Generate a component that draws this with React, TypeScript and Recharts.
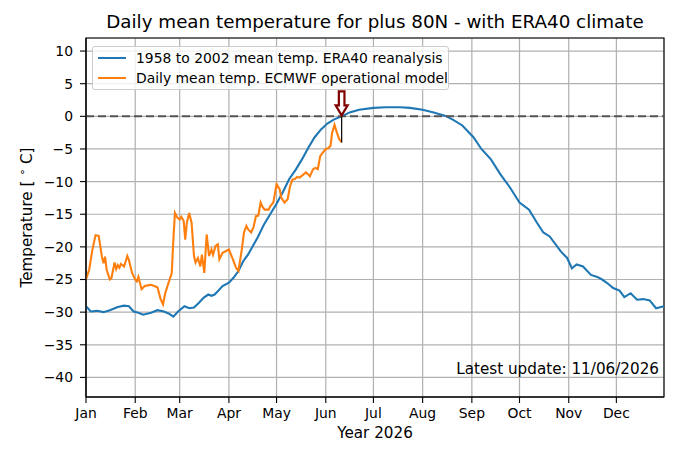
import React from 'react';
import {
  LineChart, Line, XAxis, YAxis, CartesianGrid, ReferenceLine, ReferenceDot, ReferenceArea,
} from 'recharts';

const TITLE = 'Daily mean temperature for plus 80N - with ERA40 climate';
const SERIES_CLIM = '1958 to 2002 mean temp. ERA40 reanalysis';
const SERIES_OPER = 'Daily mean temp. ECMWF operational model';
const X_LABEL = 'Year 2026';
const UPDATE_TEXT = 'Latest update: 11/06/2026';

const MONTHS = ['Jan', 'Feb', 'Mar', 'Apr', 'May', 'Jun', 'Jul', 'Aug', 'Sep', 'Oct', 'Nov', 'Dec'];
const MONTH_START = [0, 31, 59, 90, 120, 151, 181, 212, 243, 273, 304, 334];
const Y_TICKS = [-40, -35, -30, -25, -20, -15, -10, -5, 0, 5, 10];

const CLIM_DAYS = [
  0, 3, 7, 11, 15, 20, 24, 27, 30, 33, 36, 41, 45, 49, 52, 55, 58, 62, 65, 68, 71, 74, 77, 79, 81, 83, 86, 90,
  93, 96, 99, 102, 105, 108, 112, 116, 120, 124, 128, 132, 136, 140, 144, 148, 152, 156, 161, 166, 172, 181,
  189, 198, 204, 212, 219, 226, 231, 237, 244, 249, 255, 261, 267, 273, 279, 284, 288, 292, 299, 303, 306,
  309, 313, 318, 322, 325, 328, 332, 336, 339, 343, 347, 351, 355, 359, 364,
];
const CLIM_TEMPS = [
  -29.1, -29.9, -29.8, -30.0, -29.7, -29.2, -29.0, -29.1, -29.9, -30.1, -30.4, -30.1, -29.7, -29.9, -30.2,
  -30.7, -29.9, -29.1, -29.4, -29.3, -28.6, -27.8, -27.3, -27.5, -27.3, -26.8, -26.0, -25.5, -24.7, -23.7,
  -22.2, -21.2, -19.9, -18.6, -16.6, -15.0, -13.4, -11.6, -9.6, -8.2, -6.6, -4.8, -3.2, -2.0, -1.1, -0.5, 0.0,
  0.6, 1.0, 1.3, 1.4, 1.4, 1.3, 1.0, 0.6, 0.1, -0.5, -1.4, -3.2, -5.0, -6.6, -8.9, -10.9, -13.2, -14.3, -16.3,
  -17.8, -18.4, -20.7, -21.7, -23.3, -22.7, -23.0, -24.3, -24.6, -25.0, -25.5, -26.3, -26.7, -27.7, -27.1,
  -28.1, -28.0, -28.2, -29.4, -29.1,
];

const OPER_DAYS = [
  0, 2, 4, 6, 8, 10, 11, 12, 13, 15, 16, 18, 19, 20, 21, 22, 24, 26, 27, 29, 31, 32, 33, 35, 37, 39, 41, 43,
  45, 47, 48.5, 50, 52, 54, 55, 56, 57.5, 59, 60, 61.5, 62.5, 63.5, 65, 66.5, 68, 69, 70.5, 72, 73, 74.5, 76,
  77.5, 79, 80, 81.5, 83, 84, 86, 88.5, 90, 92.5, 94.5, 96, 98, 99.5, 101, 102, 104, 105.5, 107, 108.5, 110,
  111, 112.5, 115, 116, 118, 120, 122, 123, 125, 127, 128.5, 130, 131.5, 133, 134.5, 137, 138.5, 140, 141,
  143, 144.5, 146, 147.5, 149, 151, 152.5, 154, 155, 156.5, 158, 159.5, 161,
];
const OPER_TEMPS = [
  -25.0, -23.5, -20.5, -18.2, -18.3, -21.5, -22.5, -21.5, -23.5, -25.0, -24.8, -22.4, -23.4, -22.8, -23.2,
  -22.6, -23.0, -21.4, -22.0, -24.0, -25.0, -25.3, -24.6, -26.5, -26.0, -25.9, -25.8, -26.0, -26.2, -28.0,
  -28.8, -27.0, -25.5, -24.0, -19.0, -14.8, -15.5, -15.8, -15.4, -16.0, -18.9, -16.3, -14.8, -16.3, -21.4,
  -22.4, -21.7, -23.0, -21.2, -24.0, -18.1, -21.4, -20.4, -21.2, -19.9, -19.6, -21.9, -20.9, -20.6, -20.4,
  -21.9, -23.2, -23.7, -20.6, -17.8, -16.8, -17.3, -17.8, -17.0, -15.3, -15.2, -13.2, -13.8, -14.3, -14.3,
  -13.8, -13.2, -10.4, -11.2, -12.5, -13.2, -12.7, -10.7, -9.7, -9.6, -9.3, -9.4, -8.9, -8.6, -8.9, -9.2,
  -8.1, -7.9, -8.1, -6.1, -5.6, -5.0, -4.9, -4.5, -2.5, -1.3, -2.5, -3.5, -4.0,
];

const UPDATE_DAY = 161;
const X_DOMAIN = [0, 364];
const Y_DOMAIN = [-43, 12];

const climData = CLIM_DAYS.map((d, i) => ({ d, t: CLIM_TEMPS[i] }));
const operData = OPER_DAYS.map((d, i) => ({ d, t: OPER_TEMPS[i] }));
const lastOper = OPER_TEMPS[OPER_TEMPS.length - 1];

const BLUE = '#1f77b4';
const ORANGE = '#ff7f0e';
const FONT = 'DejaVu Sans';
const FS = 13.9;
const FS_LABEL = 15.2;
const FS_TITLE = 18.3;

const fmtY = (v: number) => String(v).replace('-', '\u2212');
const fmtX = (v: number) => {
  const i = MONTH_START.indexOf(v);
  return i >= 0 ? MONTHS[i] : '';
};

const Arrow = (props: any) => {
  const { cx, cy } = props;
  if (cx == null || cy == null) return null;
  const d = `M ${cx} ${cy - 1} L ${cx - 6} ${cy - 11} L ${cx - 2.8} ${cy - 11} L ${cx - 2.8} ${cy - 25} L ${cx + 2.8} ${cy - 25} L ${cx + 2.8} ${cy - 11} L ${cx + 6} ${cy - 11} Z`;
  return <path d={d} fill="#ffffff" stroke="#800000" strokeWidth={2.2} strokeLinejoin="miter" />;
};

const YLabel = (props: any) => {
  const vb = props.viewBox || {};
  const cx = vb.x + 27;
  const cy = vb.y + vb.height / 2;
  return (
    <text
      x={cx}
      y={cy}
      transform={`rotate(-90, ${cx}, ${cy})`}
      textAnchor="middle"
      dominantBaseline="central"
      fontFamily={FONT}
      fontSize={FS_LABEL}
      fill="#000"
    >
      Temperature [ <tspan dy={-5} fontSize={11}>{'\u2218'}</tspan>
      <tspan dy={5}> C]</tspan>
    </text>
  );
};

const XLabel = (props: any) => {
  const vb = props.viewBox || {};
  return (
    <text
      x={vb.x + vb.width / 2}
      y={vb.y + 36}
      textAnchor="middle"
      dominantBaseline="central"
      fontFamily={FONT}
      fontSize={FS_LABEL}
      fill="#000"
    >
      {X_LABEL}
    </text>
  );
};

const LegendBox = () => (
  <div
    style={{
      position: 'absolute',
      left: 92,
      top: 46,
      width: 357,
      height: 44,
      border: '1px solid #cccccc',
      borderRadius: 3,
      background: 'rgba(255,255,255,0.8)',
      boxSizing: 'border-box',
      paddingTop: 1,
      fontFamily: FONT,
      fontSize: FS,
      color: '#000',
    }}
  >
    {[
      { name: SERIES_CLIM, color: BLUE },
      { name: SERIES_OPER, color: ORANGE },
    ].map((s) => (
      <div key={s.name} style={{ display: 'flex', alignItems: 'center', height: 20, whiteSpace: 'nowrap' }}>
        <div style={{ marginLeft: 5, width: 28, height: 2, background: s.color }} />
        <span style={{ marginLeft: 10 }}>{s.name}</span>
      </div>
    ))}
  </div>
);

export default function App() {
  return (
    <div style={{ position: 'absolute', left: 0, top: 0, width: 680, height: 461, background: '#fff' }}>
      <div
        style={{
          position: 'absolute',
          left: 86,
          top: 11,
          width: 578,
          textAlign: 'center',
          fontFamily: FONT,
          fontSize: FS_TITLE,
          lineHeight: '22px',
          color: '#000',
          whiteSpace: 'nowrap',
        }}
      >
        {TITLE}
      </div>
      <LineChart
        width={680}
        height={461}
        margin={{ top: 38, right: 16, bottom: 0, left: 0 }}
        style={{ fontFamily: FONT }}
      >
        <CartesianGrid stroke="#b0b0b0" strokeWidth={1.2} />
        <XAxis
          dataKey="d"
          type="number"
          domain={X_DOMAIN}
          ticks={MONTH_START}
          tickFormatter={fmtX}
          interval={0}
          height={64}
          allowDataOverflow
          tickSize={6}
          tickMargin={5}
          stroke="#000"
          tick={{ fill: '#000', fontSize: FS, fontFamily: FONT }}
          axisLine={{ stroke: '#000', strokeWidth: 1.1 }}
          tickLine={{ stroke: '#000', strokeWidth: 1.1 }}
          label={<XLabel />}
        />
        <YAxis
          type="number"
          domain={Y_DOMAIN}
          ticks={Y_TICKS}
          tickFormatter={fmtY}
          interval={0}
          width={86}
          allowDataOverflow
          tickSize={6}
          tickMargin={7}
          tick={{ fill: '#000', fontSize: FS, fontFamily: FONT }}
          axisLine={{ stroke: '#000', strokeWidth: 1.1 }}
          tickLine={{ stroke: '#000', strokeWidth: 1.1 }}
          label={<YLabel />}
        />
        <Line
          data={climData}
          dataKey="t"
          type="linear"
          stroke={BLUE}
          strokeWidth={2.1}
          dot={false}
          isAnimationActive={false}
        />
        <Line
          data={operData}
          dataKey="t"
          type="linear"
          stroke={ORANGE}
          strokeWidth={2.1}
          dot={false}
          isAnimationActive={false}
        />
        <ReferenceLine y={0} stroke="#555555" strokeWidth={2} strokeDasharray="8 4" />
        <ReferenceLine
          segment={[
            { x: UPDATE_DAY, y: 0 },
            { x: UPDATE_DAY, y: lastOper },
          ]}
          stroke="#000"
          strokeWidth={1.2}
        />
        <ReferenceDot x={UPDATE_DAY} y={0} r={6} shape={<Arrow />} />
        <ReferenceDot
          x={X_DOMAIN[1]}
          y={-38.7}
          r={0}
          fill="none"
          stroke="none"
          label={{ value: UPDATE_TEXT, position: 'left', offset: 5, fill: '#000', fontSize: FS_LABEL, fontFamily: FONT }}
        />
        <ReferenceArea
          x1={X_DOMAIN[0]}
          x2={X_DOMAIN[1]}
          y1={Y_DOMAIN[0]}
          y2={Y_DOMAIN[1]}
          fill="none"
          fillOpacity={0}
          stroke="#000"
          strokeWidth={1.1}
        />
      </LineChart>
      <LegendBox />
    </div>
  );
}
